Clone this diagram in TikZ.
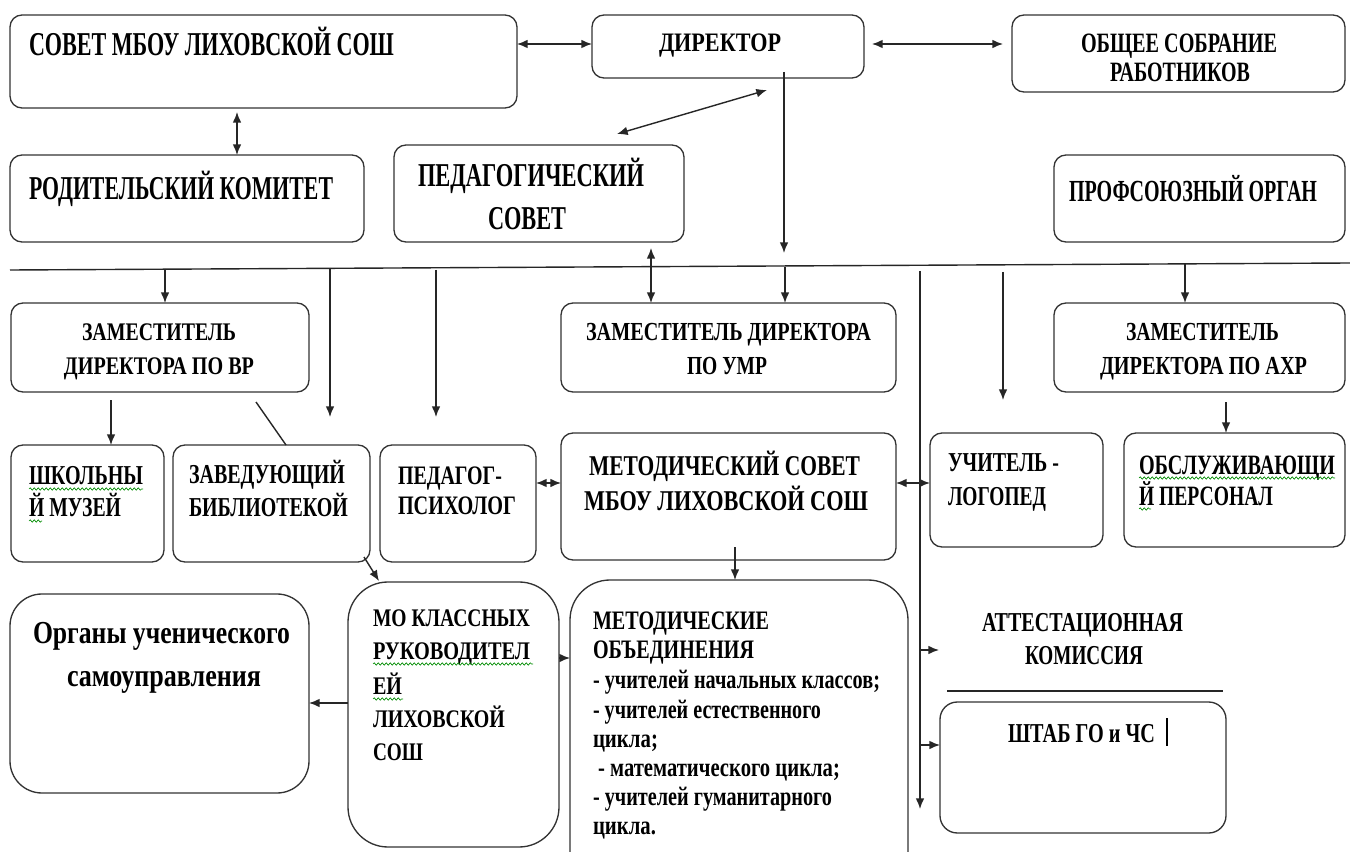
\documentclass[tikz,border=0pt]{standalone}
\usepackage{fontspec}
\usepackage{graphicx}
\newfontfamily\tnr{Liberation Serif}
\usetikzlibrary{arrows.meta,fit,decorations.pathmorphing}
\newdimen\fwd
\newcommand\fw[2]{\fwd=#1pt\fwd=0.75\fwd\resizebox{\fwd}{\height}{#2}}
\tikzset{
  box/.style={draw=black!80, line width=1pt, rounded corners=9pt, inner sep=0pt, outer sep=0pt},
  tx/.style={anchor=base west, inner sep=0pt, outer sep=0pt, font=\tnr\bfseries\fontsize{#1pt}{#1pt}\selectfont},
  ln/.style={draw=black!85, line width=1.05pt},
  arr/.style={ln, -{Latex[length=8pt,width=6.5pt]}},
  darr/.style={ln, {Latex[length=8pt,width=6.5pt]}-{Latex[length=8pt,width=6.5pt]}},
  squig/.style={draw=green!55!black, line width=0.5pt, decorate, decoration={snake, segment length=3pt, amplitude=0.9pt}},
}
\begin{document}
\begin{tikzpicture}[x=0.75pt,y=-0.75pt]
\useasboundingbox (0,0) rectangle (1350,852);
\clip (0,0) rectangle (1350,852);
\fill[white] (0,0) rectangle (1350,852);
% ---------- boxes ----------
\node[box, fit={(10,15) (517,108)}] (sovet) {};
\node[box, fit={(592,15) (864,78)}] (dir) {};
\node[box, fit={(1012,15) (1345,92)}] (obsh) {};
\node[box, fit={(10,155) (364,242)}] (rod) {};
\node[box, fit={(394,145) (684,242)}] (ped) {};
\node[box, fit={(1054,155) (1345,242)}] (prof) {};
\node[box, fit={(11,303) (309,392)}] (zvr) {};
\node[box, fit={(561,303) (896,392)}] (zumr) {};
\node[box, fit={(1054,303) (1345,392)}] (zahr) {};
\node[box, fit={(11,445) (164,562)}] (muz) {};
\node[box, fit={(173,445) (370,562)}] (bib) {};
\node[box, fit={(380,445) (536,562)}] (psy) {};
\node[box, fit={(561,433) (896,560)}] (msov) {};
\node[box, fit={(930,433) (1103,547)}] (log) {};
\node[box, fit={(1124,433) (1345,547)}] (obsl) {};
\node[box, rounded corners=24pt, fit={(10,594) (309,793)}] (org) {};
\node[box, rounded corners=30pt, fit={(348,582) (559,847)}] (mo) {};
\node[box, rounded corners=30pt, fit={(570,580) (908,900)}] (mob) {};
\node[box, rounded corners=13pt, fit={(940,702) (1226,833)}] (shtab) {};
% ---------- texts ----------
\node[tx=25] (t1) at (29,56) {\fw{365}{СОВЕТ МБОУ  ЛИХОВСКОЙ  СОШ}};
\node[tx=20] (t2) at (659,52) {\fw{122}{ДИРЕКТОР}};
\node[tx=21] (t3) at (1081,53) {\fw{196}{ОБЩЕЕ СОБРАНИЕ}};
\node[tx=21] (t4) at (1110,82) {\fw{140}{РАБОТНИКОВ}};
\node[tx=25] (t5) at (29,200) {\fw{304}{РОДИТЕЛЬСКИЙ  КОМИТЕТ}};
\node[tx=25] (t6) at (418,187) {\fw{226}{ПЕДАГОГИЧЕСКИЙ}};
\node[tx=25] (t7) at (488,230) {\fw{78}{СОВЕТ}};
\node[tx=23] (t8) at (1069,202) {\fw{248}{ПРОФСОЮЗНЫЙ ОРГАН}};
\node[tx=19] (t9) at (82,341) {\fw{154}{ЗАМЕСТИТЕЛЬ}};
\node[tx=19] (t10) at (64,375) {\fw{190}{ДИРЕКТОРА ПО ВР}};
\node[tx=19.5] (t11) at (586,341) {\fw{285}{ЗАМЕСТИТЕЛЬ ДИРЕКТОРА}};
\node[tx=19.5] (t12) at (687,375) {\fw{80}{ПО УМР}};
\node[tx=19.5] (t13) at (1126,341) {\fw{153}{ЗАМЕСТИТЕЛЬ}};
\node[tx=19.5] (t14) at (1100,375) {\fw{207}{ДИРЕКТОРА ПО АХР}};
\node[tx=20.5] (t15) at (29,484) {\fw{114}{ШКОЛЬНЫ}};
\node[tx=20.5] (t16) at (29,516) {\fw{92}{Й МУЗЕЙ}};
\node[tx=20.5] (t17) at (189,483) {\fw{156}{ЗАВЕДУЮЩИЙ}};
\node[tx=20.5] (t18) at (189,516) {\fw{159}{БИБЛИОТЕКОЙ}};
\node[tx=20] (t19) at (398,484) {\fw{104}{ПЕДАГОГ-}};
\node[tx=20] (t20) at (398,514) {\fw{118}{ПСИХОЛОГ}};
\node[tx=21.5] (t21) at (589,475) {\fw{271}{МЕТОДИЧЕСКИЙ  СОВЕТ}};
\node[tx=21.5] (t22) at (584,510) {\fw{284}{МБОУ  ЛИХОВСКОЙ  СОШ}};
\node[tx=20.5] (t23) at (948,471) {\fw{111}{УЧИТЕЛЬ -}};
\node[tx=20.5] (t24) at (948,505) {\fw{98}{ЛОГОПЕД}};
\node[tx=21] (t25) at (1139,474) {\fw{196}{ОБСЛУЖИВАЮЩИ}};
\node[tx=21] (t26) at (1139,505) {\fw{134}{Й ПЕРСОНАЛ}};
\node[tx=24] (t27) at (33,643) {\fw{257}{Органы ученического}};
\node[tx=24] (t28) at (67,686) {\fw{194}{самоуправления}};
\node[tx=19] (t29) at (373,626) {\fw{157}{МО КЛАССНЫХ}};
\node[tx=19] (t30) at (373,659) {\fw{157}{РУКОВОДИТЕЛ}};
\node[tx=19] (t31) at (373,694) {\fw{29}{ЕЙ}};
\node[tx=19] (t32) at (373,727) {\fw{132}{ЛИХОВСКОЙ}};
\node[tx=19] (t33) at (373,760) {\fw{50}{СОШ}};
\node[tx=20] (t34) at (593,629) {\fw{176}{МЕТОДИЧЕСКИЕ}};
\node[tx=20] (t35) at (593,658) {\fw{161}{ОБЪЕДИНЕНИЯ}};
\node[tx=20] (t36) at (593,688) {\fw{287}{- учителей начальных классов;}};
\node[tx=20] (t37) at (593,718) {\fw{228}{- учителей естественного}};
\node[tx=20] (t38) at (593,747) {\fw{65}{цикла;}};
\node[tx=20] (t39) at (598,776) {\fw{242}{- математического цикла;}};
\node[tx=20] (t40) at (593,805) {\fw{239}{- учителей гуманитарного}};
\node[tx=20] (t41) at (593,834) {\fw{63}{цикла.}};
\node[tx=20.5] (t42) at (982,631) {\fw{201}{АТТЕСТАЦИОННАЯ}};
\node[tx=20.5] (t43) at (1025,664) {\fw{118}{КОМИССИЯ}};
\node[tx=20.5] (t44) at (1008,742) {\fw{147}{ШТАБ ГО и ЧС}};
\draw[black, line width=2.2pt] (1167,718) -- (1167,746);
% spell-check squiggles
\draw[squig] (29,489) -- (143,489);
\draw[squig] (29,521) -- (42,521);
\draw[squig] (1139,478) -- (1335,478);
\draw[squig] (1139,509) -- (1151,509);
\draw[squig] (373,664) -- (533,664);
\draw[squig] (373,699) -- (403,699);
% ---------- horizontal rules ----------
\coordinate (hl1) at (10,270);
\coordinate (hl2) at (1350,263);
\draw[ln] (hl1) -- (hl2);
\coordinate (ar1) at (947,691);
\coordinate (ar2) at (1223,691);
\draw[ln] (ar1) -- (ar2);
% ---------- connectors ----------
\draw[darr] (sovet.east |- 0,44) -- (dir.west |- 0,44);
\coordinate (da1) at (872,44);
\coordinate (da2) at (1003,44);
\draw[darr] (da1) -- (da2);
\draw[darr] (sovet.south -| 237,0) ++(0,4) coordinate (sr1) -- (rod.north -| 237,0);
\coordinate (pA) at (617,134);
\coordinate (pB) at (767,90);
\draw[darr] (pA) -- (pB);
\coordinate (dd1) at (784,72);
\coordinate (dd2) at (784,253);
\draw[arr] (dd1) -- (dd2);
\coordinate (l1) at (165,269);
\draw[arr] (l1) -- (l1 |- zvr.north);
\coordinate (l2) at (330,268);
\coordinate (e2) at (330,417);
\draw[arr] (l2) -- (e2);
\coordinate (l3) at (436,270);
\coordinate (e3) at (436,417);
\draw[arr] (l3) -- (e3);
\coordinate (l4) at (651,248);
\draw[darr] (l4) -- (l4 |- zumr.north);
\coordinate (l5) at (785,267);
\draw[arr] (l5) -- (l5 |- zumr.north);
\coordinate (l6) at (920,271);
\coordinate (e6) at (920,809);
\draw[arr] (l6) -- (e6);
\coordinate (l7) at (1003,272);
\coordinate (e7) at (1003,400);
\draw[arr] (l7) -- (e7);
\coordinate (l8) at (1185,264);
\draw[arr] (l8) -- (l8 |- zahr.north);
\coordinate (v1) at (111,400);
\draw[arr] (v1) -- (v1 |- muz.north);
\coordinate (v2) at (256,402);
\coordinate (v3) at (286,445);
\draw[ln] (v2) -- (v3);
\coordinate (v4) at (1226,402);
\draw[arr] (v4) -- (v4 |- obsl.north);
\draw[darr] (psy.east |- 0,483) -- (msov.west |- 0,483);
\draw[darr] (msov.east |- 0,483) -- (log.west |- 0,483);
\coordinate (b1) at (364,557);
\coordinate (b2) at (379,581);
\draw[arr] (b1) -- (b2);
\coordinate (m1) at (735,547);
\draw[arr] (m1) -- (m1 |- mob.north);
\draw[arr] (mo.west |- 0,703) -- (org.east |- 0,703);
\draw[arr] (mo.east |- 0,658) -- (mob.west |- 0,658);
\coordinate (k1) at (920,650);
\coordinate (k2) at (939,650);
\draw[arr] (k1) -- (k2);
\coordinate (k3) at (920,745);
\draw[arr] (k3) -- (k3 -| shtab.west);
\end{tikzpicture}
\end{document}
